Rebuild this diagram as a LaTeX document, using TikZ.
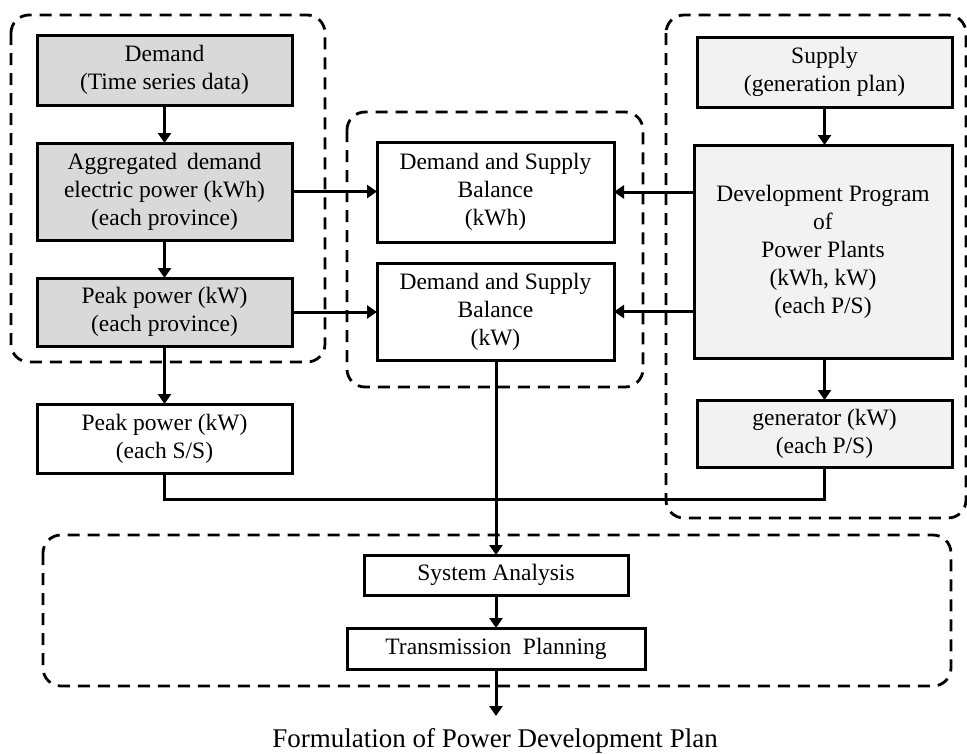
\documentclass[tikz,border=0pt]{standalone}
\usepackage{fontspec}
\setmainfont{Liberation Serif}
\usetikzlibrary{arrows.meta}
\definecolor{demandfill}{RGB}{217,217,217}
\definecolor{supplyfill}{RGB}{242,242,242}
\begin{document}
\begin{tikzpicture}[x=1pt,y=-1pt,
  every node/.style={inner sep=0pt,outer sep=0pt},
  txt/.style={font=\fontsize{23.5}{28}\selectfont,align=center},
  box/.style={txt,draw,line width=3pt,anchor=center},
  dbox/.style={box,fill=demandfill},
  sbox/.style={box,fill=supplyfill},
  wbox/.style={box,fill=white},
  group/.style={draw,line width=2.8pt,dash pattern=on 12pt off 8pt,rounded corners=18pt},
  link/.style={line width=3pt},
  flow/.style={link,-{Triangle[width=13pt,length=10pt]}}]
\useasboundingbox (0,0) rectangle (967,753);

% dashed groupings
\draw[group] (11,15) rectangle (325,362);
\draw[group] (347,112) rectangle (643,387);
\draw[group] (666,15) rectangle (966,518);
\draw[group] (43,535) rectangle (951,686);

% demand side
\node[dbox,minimum width=255pt,minimum height=70pt] (demand) at (164.5,70) {Demand\\(Time series data)};
\node[dbox,minimum width=255pt,minimum height=97pt] (agg) at (164.5,191.5) {Aggregated\ \,demand\\electric power (kWh)\\(each province)};
\node[dbox,minimum width=255pt,minimum height=68pt] (peakprov) at (164.5,312) {Peak power (kW)\\(each province)};
\node[wbox,minimum width=255pt,minimum height=69pt] (peakss) at (164.5,438.5) {Peak power (kW)\\(each S/S)};

% balances
\node[wbox,minimum width=237pt,minimum height=100pt] (balkwh) at (495.5,192) {Demand and Supply\\Balance\\(kWh)};
\node[wbox,minimum width=237pt,minimum height=97pt] (balkw) at (495.5,311.5) {Demand and Supply\\Balance\\(kW)};

% supply side
\node[sbox,minimum width=255pt,minimum height=70pt] (supply) at (824.5,72) {Supply\\(generation plan)};
\node[sbox,minimum width=258pt,minimum height=213pt] (devprog) at (823,251.5) {Development Program\\of\\Power Plants\\(kWh, kW)\\(each P/S)};
\node[sbox,minimum width=255pt,minimum height=67pt] (gen) at (824.5,433.5) {generator (kW)\\(each P/S)};

% planning
\node[wbox,minimum width=264pt,minimum height=40pt] (sysan) at (496,575) {System Analysis};
\node[wbox,minimum width=298pt,minimum height=41pt] (trans) at (496,648.5) {Transmission\ \ Planning};
\node[font=\fontsize{27}{32}\selectfont,anchor=base] (formul) at (495,747) {Formulation of Power Development Plan};

\coordinate (join) at (496,499);

% connectors
\draw[flow] (demand) -- (agg);
\draw[flow] (agg) -- (peakprov);
\draw[flow] (peakprov) -- (peakss);
\draw[flow] (agg.east) -- (agg.east -| balkwh.west);
\draw[flow] (peakprov.east) -- (peakprov.east -| balkw.west);
\draw[flow] (balkwh.east -| devprog.west) -- (balkwh.east);
\draw[flow] (balkw.east -| devprog.west) -- (balkw.east);
\draw[flow] (supply) -- (supply.south |- devprog.north);
\draw[flow] (devprog.south -| gen.north) -- (gen.north);
\draw[link] (peakss.south) |- (join);
\draw[link] (gen.south) |- (join);
\draw[flow] (balkw.south -| sysan.north) -- (sysan.north);
\draw[flow] (sysan) -- (trans);
\draw[flow] (trans.south) -- (trans.south |- 0,716);
\end{tikzpicture}
\end{document}
